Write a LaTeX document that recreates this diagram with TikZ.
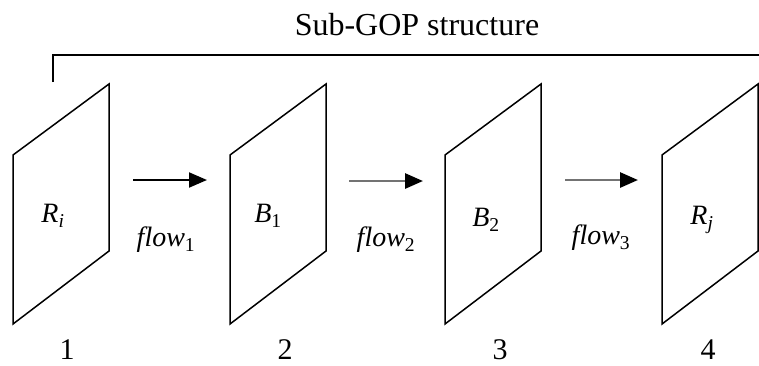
\documentclass[tikz,border=0pt]{standalone}
\usepackage{fontspec}
\setmainfont{Liberation Serif}
\usetikzlibrary{arrows.meta}
\begin{document}
\begin{tikzpicture}[x=1pt,y=-1pt,
  frame/.style={draw=black,line width=1.5pt,line join=miter},
  flowarrow/.style={line width=2pt,-{Triangle[length=18pt,width=15pt,black]}},
  grayarrow/.style={flowarrow,line width=2.8pt,draw=gray!90!black},
  lbl/.style={font=\fontsize{28}{32}\selectfont\itshape,inner sep=0pt},
  num/.style={font=\fontsize{30}{34}\selectfont,inner sep=0pt,anchor=base},
  bracket/.style={line width=2pt}]
\useasboundingbox (0,0) rectangle (759,365);
% frames
\foreach \n/\xo in {1/13,2/230,3/445,4/662}{
  \coordinate (tl\n) at (\xo,155);
  \coordinate (bl\n) at (\xo,324);
  \coordinate (tr\n) at (\xo+96,84);
  \coordinate (br\n) at (\xo+96,251);
  \draw[frame] (tl\n) -- (tr\n) -- (br\n) -- (bl\n) -- cycle;
}
% title and bracket
\node[font=\fontsize{32}{36}\selectfont,inner sep=0pt] (title) at (417,25) {Sub-GOP structure};
\coordinate (bs) at (53,82);
\coordinate (bc) at (53,55);
\coordinate (be) at (759,55);
\draw[bracket] (bs) -- (bc) -- (be);
% labels in frames
\node[lbl] (ri) at (53,216) {R\textsubscript{i}};
\node[lbl] (b1) at (268,216) {B\textsubscript{\upshape 1}};
\node[lbl] (b2) at (486,220) {B\textsubscript{\upshape 2}};
\node[lbl] (rj) at (702,220) {R\textsubscript{j}};
% arrows
\coordinate (a1s) at (133,180); \coordinate (a1e) at (207,180);
\coordinate (a2s) at (349,181); \coordinate (a2e) at (423,181);
\coordinate (a3s) at (565,180); \coordinate (a3e) at (638,180);
\draw[flowarrow,black] (a1s) -- (a1e);
\draw[grayarrow] (a2s) -- (a2e);
\draw[grayarrow] (a3s) -- (a3e);
\node[lbl] (f1) at (166,240) {flow\textsubscript{\upshape 1}};
\node[lbl] (f2) at (386,240) {flow\textsubscript{\upshape 2}};
\node[lbl] (f3) at (601,238) {flow\textsubscript{\upshape 3}};
% numbers
\node[num] (n1) at (67,359) {1};
\node[num] (n2) at (285,359) {2};
\node[num] (n3) at (500,359) {3};
\node[num] (n4) at (708,359) {4};
\end{tikzpicture}
\end{document}
